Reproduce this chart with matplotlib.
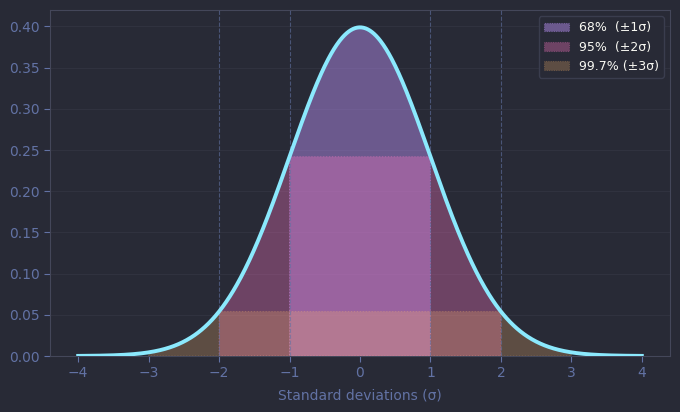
import matplotlib
matplotlib.use('Agg')
import matplotlib.pyplot as plt
import numpy as np

# Data
sigma_bands = [1, 2, 3]
band_labels = ['68%  (±1σ)', '95%  (±2σ)', '99.7% (±3σ)']
band_colors = ['#bd93f9', '#ff79c6', '#ffb86c']
band_alphas = [0.45, 0.32, 0.25]
ref_lines = [-2, -1, 1, 2]
x_ticks = [-4, -3, -2, -1, 0, 1, 2, 3, 4]
y_ticks = [0.00, 0.05, 0.10, 0.15, 0.20, 0.25, 0.30, 0.35, 0.40]

BG = '#282a36'
FG = '#6272a4'
SPINE = '#44475a'


def pdf(v):
    return np.exp(-0.5 * v ** 2) / np.sqrt(2 * np.pi)


x = np.linspace(-4, 4, 801)
y = pdf(x)

fig = plt.figure(figsize=(6.8, 4.12), dpi=100, facecolor=BG)
ax = fig.add_axes([50 / 680, 56 / 412, 620 / 680, 346 / 412])
ax.set_facecolor(BG)

# Bands: each one under the curve, capped at the height of the previous sigma
for k, label, color, alpha in zip(sigma_bands, band_labels, band_colors, band_alphas):
    mask = np.abs(x) <= k
    cap = pdf(k - 1)
    ax.fill_between(x[mask], 0, np.minimum(y[mask], cap), facecolor=color,
                    alpha=alpha, edgecolor=color, linewidth=0.8, linestyle=':',
                    label=label, zorder=2)

for v in ref_lines:
    ax.axvline(v, color=FG, linestyle='--', linewidth=0.8, alpha=0.6, zorder=3)

ax.plot(x, y, color='#8be9fd', linewidth=2.8, zorder=4)

ax.set_xlim(-4.4, 4.4)
ax.set_ylim(0, 0.42)
ax.set_xticks(x_ticks)
ax.set_xticklabels([f'{t}'.replace('-', '\u2212') for t in x_ticks])
ax.set_yticks(y_ticks)
ax.set_yticklabels([f'{t:.2f}' for t in y_ticks])
ax.tick_params(colors=FG, labelsize=10, length=4)
ax.grid(axis='y', color='#30323f', linewidth=0.8, zorder=0)
ax.set_axisbelow(True)
for s in ax.spines.values():
    s.set_color(SPINE)

ax.set_xlabel('Standard deviations (σ)', color=FG, fontsize=10, labelpad=5.5)

leg = ax.legend(loc='upper right', facecolor=BG, edgecolor='#3a3d4e', fontsize=9,
                framealpha=1)
for t in leg.get_texts():
    t.set_color('#f8f8f2')

fig.savefig('out.png', dpi=100, facecolor=BG)
